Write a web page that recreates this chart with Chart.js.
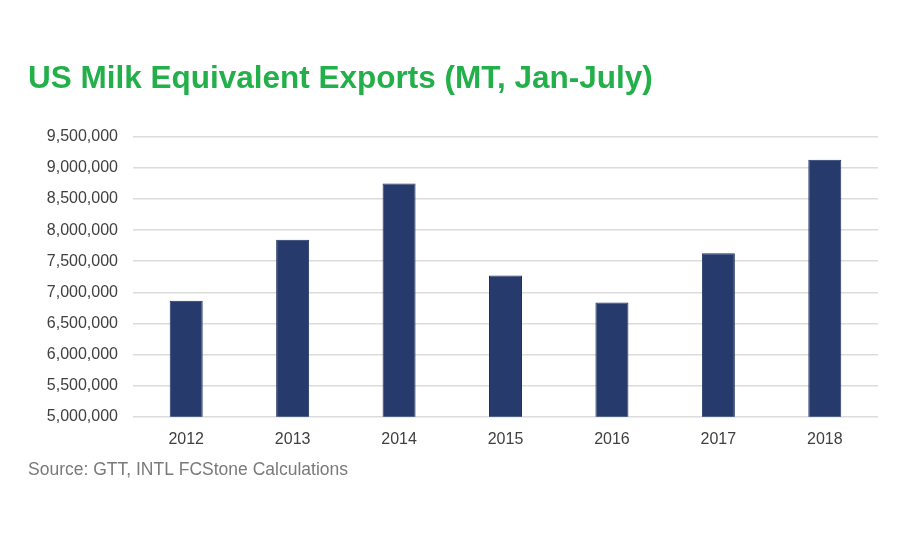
<!DOCTYPE html>
<html>
<head>
<meta charset="utf-8">
<script src="https://cdn.jsdelivr.net/npm/chart.js@4/dist/chart.umd.min.js"></script>
<style>
	html, body { margin: 0; padding: 0; background: #fff; }
	#wrap { width: 900px; height: 550px; }
</style>
</head>
<body>
<div id="wrap"><canvas id="chart" width="900" height="550"></canvas></div>
<script>
// chart data
var years = [ '2012', '2013', '2014', '2015', '2016', '2017', '2018' ];
var exportsMT = [ 6865000, 7845000, 8750000, 7270000, 6835000, 7630000, 9130000 ];
var yMin = 5000000;
var yMax = 9500000;
var yStep = 500000;

var titleText = 'US Milk Equivalent Exports (MT, Jan-July)';
var sourceText = 'Source: GTT, INTL FCStone Calculations';

var config = {
	type: 'bar',
	data: {
		labels: years,
		datasets: [ {
			data: exportsMT,
			backgroundColor: '#263a6b',
			borderColor: '#1f3160',
			borderWidth: 1,
			categoryPercentage: 1,
			barPercentage: 0.31
		} ]
	},
	options: {
		responsive: false,
		animation: false,
		layout: {
			padding: { left: 28, right: 22, top: 60, bottom: 69 }
		},
		plugins: {
			legend: { display: false },
			tooltip: { enabled: false },
			title: {
				display: true,
				text: titleText,
				align: 'start',
				color: '#23b04b',
				font: { family: "'Liberation Sans', Arial, sans-serif", size: 31.5, weight: 'bold' },
				padding: { top: 0, bottom: 39 }
			},
			subtitle: {
				display: true,
				text: sourceText,
				position: 'bottom',
				align: 'start',
				color: '#7a7a7a',
				font: { family: "'Liberation Sans', Arial, sans-serif", size: 17.5, weight: 'normal' },
				padding: { top: 6, bottom: 0 }
			}
		},
		scales: {
			x: {
				grid: { display: false },
				border: { display: false },
				ticks: {
					color: '#404040',
					padding: 5,
					font: { family: "'Liberation Sans', Arial, sans-serif", size: 16 }
				}
			},
			y: {
				min: yMin,
				max: yMax,
				border: { display: false },
				grid: {
					color: '#dcdcdc',
					lineWidth: 1.5,
					drawTicks: false
				},
				ticks: {
					stepSize: yStep,
					color: '#404040',
					padding: 15,
					font: { family: "'Liberation Sans', Arial, sans-serif", size: 16 },
					callback: function( value ) {
						return value.toLocaleString( 'en-US' );
					}
				},
				afterFit: function( scale ) {
					// fixed axis width so the plot starts where the original does
					scale.width = 105;
				}
			}
		}
	}
};

new Chart( document.getElementById( 'chart' ).getContext( '2d' ), config );
</script>
</body>
</html>
